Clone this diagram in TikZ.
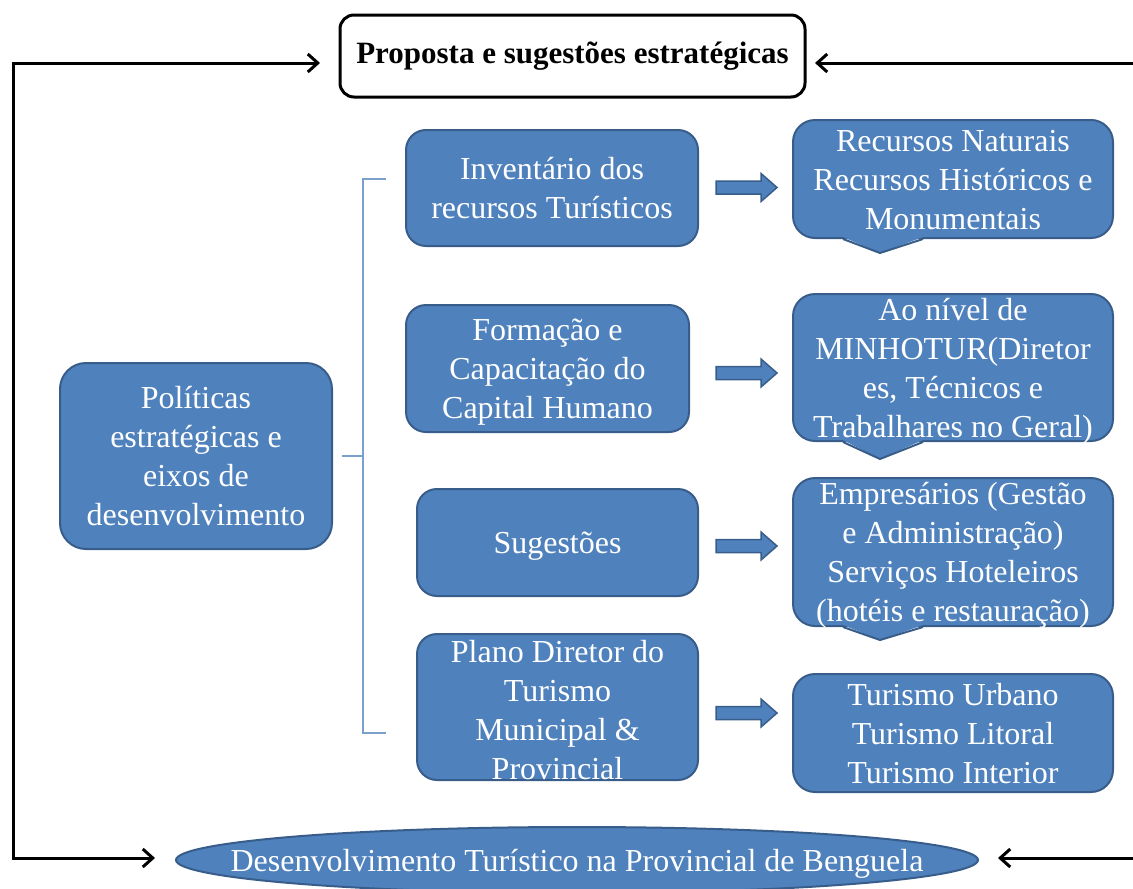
\documentclass[tikz,border=0pt]{standalone}
\usepackage{fontspec}
\setmainfont{Liberation Serif}
\usetikzlibrary{arrows.meta,shapes.geometric,calc}
\definecolor{bfill}{HTML}{4F81BD}
\definecolor{bline}{HTML}{385D8A}
\newcommand\mt[1]{\raisebox{-9.5pt}[0pt][0pt]{\begin{tabular}{@{}c@{}}#1\end{tabular}}}
\newcommand\callptr[2]{%
  \fill[bfill] ($(#1.south)+(-110,-2)$) -- ($(#1.south)+(-73,#2)$) -- ($(#1.south)+(-30,-2)$) -- cycle;
  \draw[bline,line width=2pt,line join=round] ($(#1.south)+(-110,0)$) -- ($(#1.south)+(-73,#2)$) -- ($(#1.south)+(-30,0)$);}
\newcommand\blockarr[1]{%
  \draw[barr] (716,#1-6.5) -- (761,#1-6.5) -- (761,#1-14) -- (777,#1) -- (761,#1+14) -- (761,#1+6.5) -- (716,#1+6.5) -- cycle;}
\begin{document}
\begin{tikzpicture}[x=1pt,y=-1pt,
  base/.style={rectangle, fill=bfill, draw=bline, line width=2pt, text=white, inner sep=0pt, font=\fontsize{32}{39}\selectfont},
  lbox/.style={base, rounded corners=20pt},
  cbox/.style={base, rounded corners=22pt, minimum width=320pt},
  titlebox/.style={rectangle, rounded corners=14pt, draw=black, fill=white, line width=3pt, inner sep=0pt, minimum width=465pt, minimum height=82pt, font=\fontsize{31}{37}\selectfont\bfseries},
  ell/.style={ellipse, fill=bfill, draw=bline, line width=2pt, text=white, inner sep=0pt, minimum width=802pt, minimum height=66pt, font=\fontsize{32}{39}\selectfont},
  larr/.style={line width=3pt, -{Straight Barb[length=10pt,width=18pt]}},
  dlarr/.style={line width=3pt, {Straight Barb[length=10pt,width=18pt]}-{Straight Barb[length=10pt,width=18pt]}},
  brk/.style={draw=bfill!75, line width=1.2pt},
  barr/.style={fill=bfill, draw=bline, line width=1.5pt, line join=miter}
]
\useasboundingbox (0,0) rectangle (1133,889);

% title and bottom ellipse
\node[titlebox] (title) at (572.5,56) {Proposta e sugestões estratégicas};
\node[ell] (dev) at (577,860) {\makebox[0pt]{\raisebox{-11pt}[0pt][0pt]{Desenvolvimento Turístico na Provincial de Benguela}}};

% left column
\node[lbox, rounded corners=26pt, minimum width=272pt, minimum height=186pt] (pol) at (196,456) {\mt{Políticas\\estratégicas e\\eixos de\\desenvolvimento}};

% middle column
\node[lbox, minimum width=292pt, minimum height=116pt] (inv) at (552,188) {\mt{Inventário dos\\recursos Turísticos}};
\node[lbox, minimum width=283pt, minimum height=127pt] (form) at (547.5,368.5) {\mt{Formação e\\Capacitação do\\Capital Humano}};
\node[lbox, minimum width=281pt, minimum height=107pt] (sug) at (557.5,542.5) {\mt{Sugestões}};
\node[lbox, minimum width=281pt, minimum height=146pt] (plano) at (557.5,707) {\raisebox{-3pt}[0pt][0pt]{\mt{Plano Diretor do\\Turismo\\Municipal \&\\Provincial}}};

% right column (callouts)
\node[cbox, minimum height=118pt] (r1) at (953,179) {\mt{Recursos Naturais\\Recursos Históricos e\\Monumentais}};
\node[cbox, minimum height=147pt] (r2) at (953,367.5) {\mt{Ao nível de\\MINHOTUR(Diretor\\es, Técnicos e\\Trabalhares no Geral)}};
\node[cbox, minimum height=148pt] (r3) at (953,552) {\mt{Empresários (Gestão\\e Administração)\\Serviços Hoteleiros\\(hotéis e restauração)}};
\node[cbox, minimum height=118pt] (r4) at (953,733) {\mt{Turismo Urbano\\Turismo Litoral\\Turismo Interior}};
\callptr{r1}{14}
\callptr{r2}{17}
\callptr{r3}{13}

% block arrows
\blockarr{187.5}
\blockarr{373}
\blockarr{546}
\blockarr{713}

% bracket
\coordinate (bk) at (363,456);
\coordinate (bt) at (386,179);
\coordinate (bb) at (386,733);
\draw[brk] ([xshift=9pt]pol.east) -- (bk);
\draw[brk] (bt) -- (363,179) -- (363,733) -- (bb);

% feedback arrows
\coordinate (lt) at (320,63);
\coordinate (lb) at (155,858);
\draw[dlarr] (lt) -- (13,63) -- (13,858) -- (lb);
\coordinate (rt) at (1134,63);
\coordinate (rte) at (815,63);
\draw[larr] (rt) -- (rte);
\coordinate (rb) at (1134,858);
\coordinate (rbe) at (998,858);
\draw[larr] (rb) -- (rbe);
\end{tikzpicture}
\end{document}
